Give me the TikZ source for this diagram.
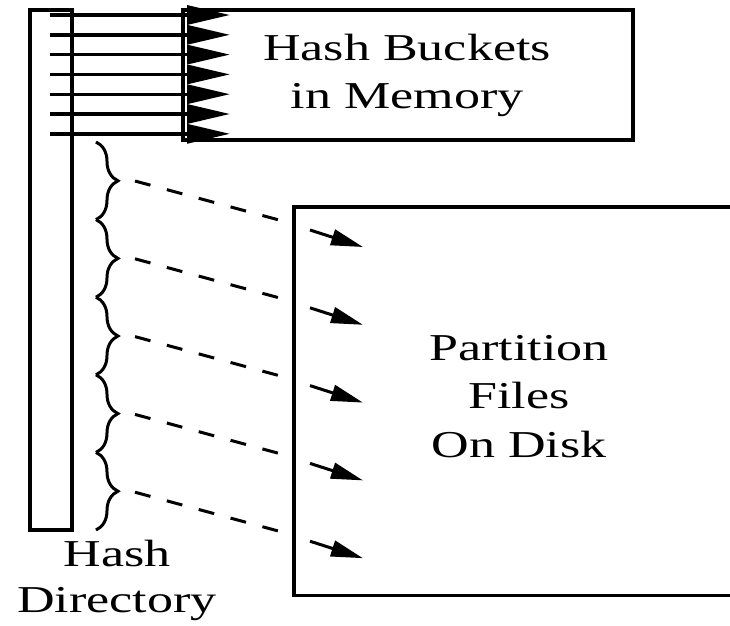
\documentclass[tikz,border=0pt]{standalone}
\usepackage{fontspec}
\setmainfont{Liberation Serif}
\usetikzlibrary{arrows.meta,decorations.pathreplacing}
\begin{document}
\begin{tikzpicture}[x=1pt,y=1pt,
  box/.style={draw,line width=3.4pt,inner sep=0pt},
  lbl/.style={inner sep=0pt,font=\fontsize{38}{48}\selectfont},
  solidarr/.style={line width=3.4pt,-{Triangle[length=43pt,width=19pt]}},
  dasharr/.style={line width=3pt,dash pattern=on 16pt off 17pt},
  diskarr/.style={line width=3pt,-{Triangle[length=32pt,width=16pt]}},
  bracestyle/.style={line width=3pt,decorate,decoration={brace,amplitude=22pt}}]
\useasboundingbox (0,0) rectangle (730,-625);
% hash directory
\node[box,minimum width=42pt,minimum height=520pt] (dir) at (51,-270) {};
% memory buckets
\node[box,minimum width=450pt,minimum height=130pt] (mem) at (408,-75) {};
% partition files (open at right)
\node[inner sep=0pt,minimum width=436pt,minimum height=388pt] (part) at (512,-401) {};
\draw[line width=3.4pt] (part.north east) -- (part.north west) -- (part.south west) -- (part.south east);
% labels
\node[lbl] (memlbl) at (407,-74.4) {\scalebox{1.37}[1]{\begin{tabular}{@{}c@{}}Hash Buckets\\in Memory\end{tabular}}};
\node[lbl] (partlbl) at (519,-399) {\fontsize{38}{48.5}\selectfont\scalebox{1.37}[1]{\begin{tabular}{@{}c@{}}Partition\\Files\\On Disk\end{tabular}}};
\node[lbl] (dirlbl) at (117,-580) {\fontsize{38}{46}\selectfont\scalebox{1.37}[1]{\begin{tabular}{@{}c@{}}Hash\\Directory\end{tabular}}};
% solid arrows into memory
\foreach \i in {0,...,6} {
  \pgfmathsetmacro{\yy}{-15-19.8*\i}
  \coordinate (s\i) at (50,\yy);
  \coordinate (t\i) at (230,\yy);
  \draw[solidarr] (s\i) -- (t\i);
}
% braces and dashed arrows
\foreach \i in {0,...,4} {
  \pgfmathsetmacro{\ya}{-142-77.6*\i}
  \pgfmathsetmacro{\yb}{-142-77.6*(\i+1)}
  \pgfmathsetmacro{\ym}{-181-77.8*\i}
  \coordinate (ba\i) at (96,\ya);
  \coordinate (bb\i) at (96,\yb);
  \draw[bracestyle] (ba\i) -- (bb\i);
  \coordinate (tip\i) at (135,\ym);
  \coordinate (edge\i) at (part.west |- 0,\ym-43);
  \draw[dasharr] (tip\i) -- (edge\i);
  \coordinate (da\i) at (310,\ym-49);
  \coordinate (db\i) at (363,\ym-66);
  \draw[diskarr] (da\i) -- (db\i);
}
\end{tikzpicture}
\end{document}
